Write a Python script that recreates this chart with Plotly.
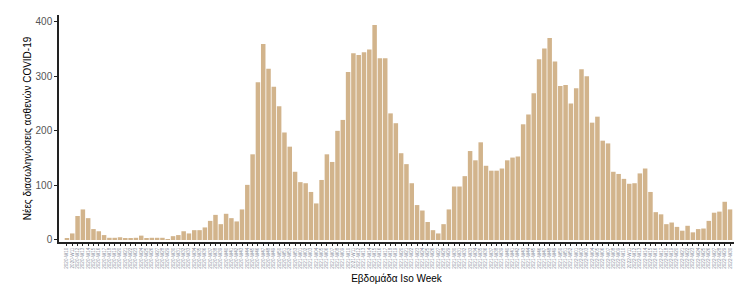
import plotly.graph_objects as go

# ISO week labels 2020-W10 .. 2022-W30
weeks_2020 = [f"2020-W{w:02d}" for w in range(10, 54)]
weeks_2021 = [f"2021-W{w:02d}" for w in range(1, 53)]
weeks_2022 = [f"2022-W{w:02d}" for w in range(1, 31)]
week_labels = weeks_2020 + weeks_2021 + weeks_2022

new_intubations = [
    2, 12, 44, 56, 40, 20, 16, 9, 4, 4,
    5, 3, 2, 4, 8, 2, 4, 4, 4, 1,
    7, 9, 16, 12, 18, 18, 23, 35, 46, 29,
    48, 40, 34, 56, 101, 157, 289, 359, 314, 281,
    245, 197, 171, 125, 106, 104, 88, 67, 110, 157,
    143, 200, 220, 308, 342, 339, 344, 349, 394, 333,
    333, 232, 214, 159, 139, 104, 64, 54, 33, 18,
    12, 29, 56, 98, 98, 117, 163, 146, 179, 136,
    127, 127, 131, 146, 151, 153, 212, 230, 269, 331,
    351, 370, 327, 282, 284, 250, 278, 313, 300, 215,
    226, 182, 177, 125, 121, 112, 103, 104, 122, 131,
    88, 51, 47, 29, 32, 24, 17, 26, 14, 20,
    21, 35, 50, 52, 70, 56,
]

y_ticks = [0, 100, 200, 300, 400]

fig = go.Figure(
    go.Bar(
        x=week_labels,
        y=new_intubations,
        marker=dict(color="#D2B48C", line=dict(width=0)),
    )
)

fig.update_layout(
    width=734,
    height=292,
    margin=dict(l=59, r=0, t=15, b=50),
    paper_bgcolor="white",
    plot_bgcolor="white",
    bargap=0.15,
    showlegend=False,
    font=dict(family="Liberation Sans, Arial, sans-serif"),
)

fig.update_xaxes(
    type="category",
    range=[-1.5, 125.75],
    tickmode="array",
    tickvals=week_labels,
    ticktext=week_labels,
    showline=True,
    linecolor="#222222",
    linewidth=1.5,
    ticks="outside",
    ticklen=2,
    tickwidth=1,
    tickcolor="#222222",
    tickangle=-90,
    tickfont=dict(size=4.6, color="#8a8fa0"),
    showgrid=False,
    zeroline=False,
    title=dict(text="Εβδομάδα Iso Week", font=dict(size=10, color="#000000"), standoff=7),
    automargin=False,
)

fig.update_yaxes(
    range=[-3.7, 412.3],
    tickvals=y_ticks,
    showline=True,
    linecolor="#222222",
    linewidth=1.5,
    ticks="outside",
    ticklen=3,
    tickcolor="#222222",
    tickfont=dict(size=10, color="#555555"),
    showgrid=False,
    zeroline=False,
    title=dict(text="Νέες διασωληνώσεις ασθενών COVID-19", font=dict(size=10, color="#000000"), standoff=2),
    automargin=False,
)

fig.write_html("out.html")
